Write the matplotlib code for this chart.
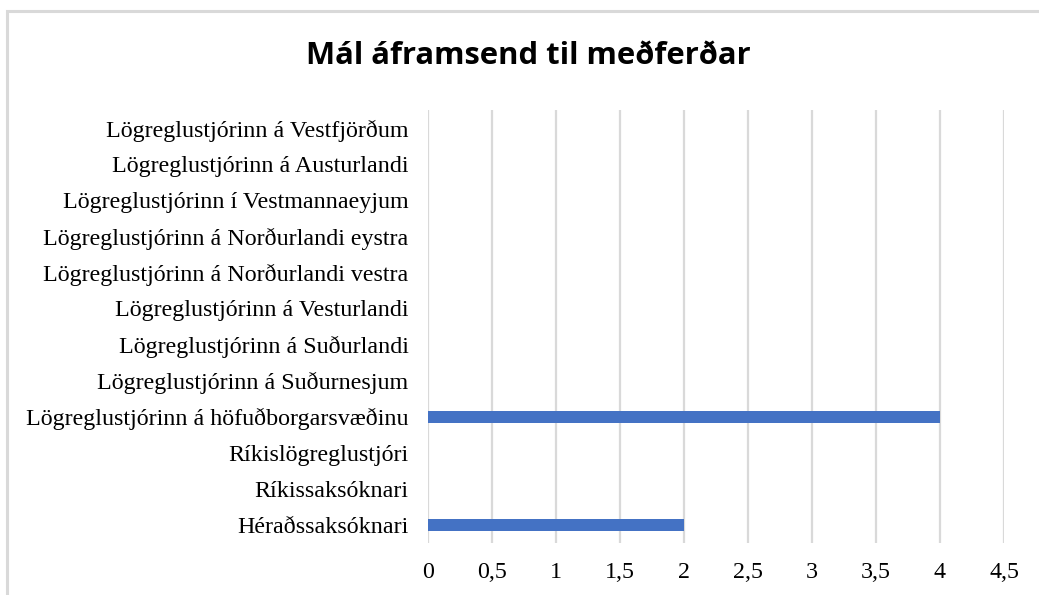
import matplotlib.pyplot as plt
from matplotlib.patches import Rectangle

categories = [
    "Héraðssaksóknari",
    "Ríkissaksóknari",
    "Ríkislögreglustjóri",
    "Lögreglustjórinn á höfuðborgarsvæðinu",
    "Lögreglustjórinn á Suðurnesjum",
    "Lögreglustjórinn á Suðurlandi",
    "Lögreglustjórinn á Vesturlandi",
    "Lögreglustjórinn á Norðurlandi vestra",
    "Lögreglustjórinn á Norðurlandi eystra",
    "Lögreglustjórinn í Vestmannaeyjum",
    "Lögreglustjórinn á Austurlandi",
    "Lögreglustjórinn á Vestfjörðum",
]
values = [2, 0, 0, 4, 0, 0, 0, 0, 0, 0, 0, 0]
x_ticks = [0, 0.5, 1, 1.5, 2, 2.5, 3, 3.5, 4, 4.5]
x_ticklabels = [str(t).replace(".", ",") if t % 1 else str(int(t)) for t in x_ticks]

W, H = 1039, 595
fig = plt.figure(figsize=(W / 100, H / 100), dpi=100)

# light grey chart frame (only top and left edges visible in the crop)
fig.patches.append(Rectangle((6.5 / W, -0.1), 1.2, (H - 11) / H + 0.1,
                             transform=fig.transFigure, fill=False,
                             edgecolor="#d9d9d9", linewidth=2.2))

ax = fig.add_axes([428 / W, 1 - 543 / H, (1004 - 428) / W, (543 - 110) / H])
ax.barh(range(len(categories)), values, height=0.33, color="#4472c4", zorder=3)

ax.set_xlim(0, 4.5)
ax.set_ylim(-0.5, len(categories) - 0.5)
ax.set_xticks(x_ticks)
ax.set_xticklabels(x_ticklabels)
ax.set_yticks(range(len(categories)))
ax.set_yticklabels(categories)
ax.grid(axis="x", color="#d9d9d9", linewidth=1.6, zorder=0)
ax.tick_params(length=0, labelsize=17.3)
ax.tick_params(axis="x", pad=14)
ax.tick_params(axis="y", pad=14)
for lbl in ax.get_xticklabels() + ax.get_yticklabels():
    lbl.set_fontfamily("Liberation Serif")
for s in ax.spines.values():
    s.set_visible(False)

fig.text(528 / W, 1 - 56 / H, "Mál áframsend til meðferðar", ha="center", va="center",
         fontsize=22.3, fontweight="bold", family="Open Sans")

fig.savefig("out.png", dpi=100)
